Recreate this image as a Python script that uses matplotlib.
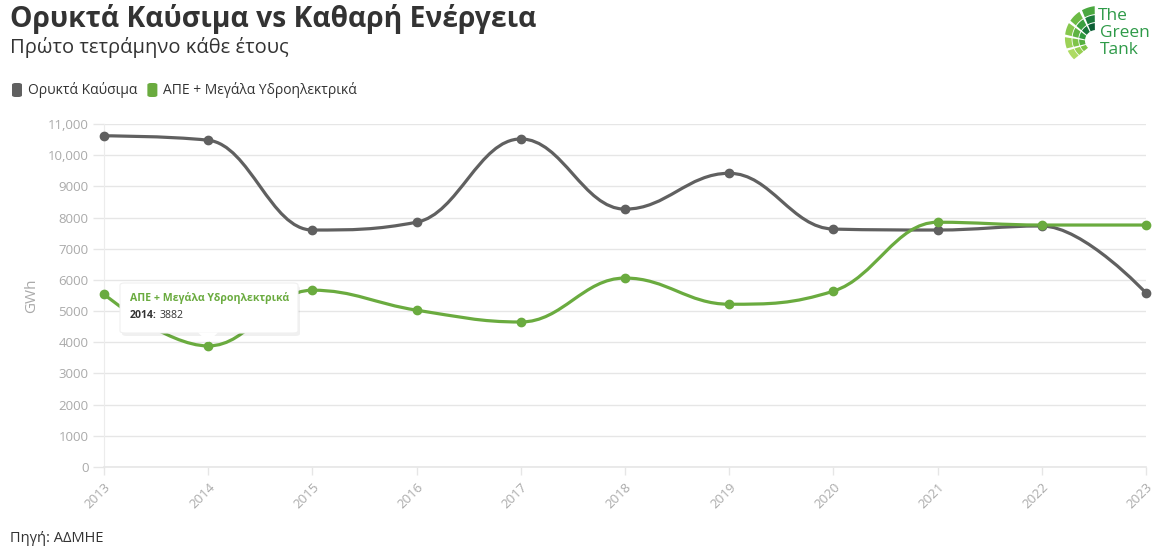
import numpy as np
import matplotlib
matplotlib.use("Agg")
import matplotlib.pyplot as plt
from matplotlib.path import Path
from matplotlib.patches import PathPatch, FancyBboxPatch, Polygon
from matplotlib.ticker import FixedLocator, FuncFormatter

plt.rcParams['font.family'] = ['Open Sans', 'Noto Sans', 'DejaVu Sans']

# --- δεδομένα ---
years = [2013, 2014, 2015, 2016, 2017, 2018, 2019, 2020, 2021, 2022, 2023]
fossil = [10620, 10480, 7600, 7850, 10520, 8270, 9420, 7630, 7600, 7730, 5580]
clean = [5540, 3882, 5670, 5030, 4650, 6060, 5220, 5640, 7850, 7760, 7760]
series_names = ['Ορυκτά Καύσιμα', 'ΑΠΕ + Μεγάλα Υδροηλεκτρικά']
y_ticks = [0, 1000, 2000, 3000, 4000, 5000, 6000, 7000, 8000, 9000, 10000, 11000]

GRAY = '#606060'
GREEN = '#6aab3f'


def spline_path(xs, ys):
    """Καμπύλη τύπου Highcharts spline (κυβικές Bezier)"""
    sm, den = 1.5, 2.5
    n = len(xs)
    left = [None] * n
    right = [None] * n
    for i in range(1, n - 1):
        px, py = xs[i], ys[i]
        lx, ly = xs[i - 1], ys[i - 1]
        nx, ny = xs[i + 1], ys[i + 1]
        lcx = (sm * px + lx) / den
        lcy = (sm * py + ly) / den
        rcx = (sm * px + nx) / den
        rcy = (sm * py + ny) / den
        if rcx != lcx:
            corr = ((rcy - lcy) * (rcx - px)) / (rcx - lcx) + py - rcy
            lcy += corr
            rcy += corr
        if lcy > ly and lcy > py:
            lcy = max(ly, py); rcy = 2 * py - lcy
        elif lcy < ly and lcy < py:
            lcy = min(ly, py); rcy = 2 * py - lcy
        if rcy > ny and rcy > py:
            rcy = max(ny, py); lcy = 2 * py - rcy
        elif rcy < ny and rcy < py:
            rcy = min(ny, py); lcy = 2 * py - rcy
        left[i] = (lcx, lcy)
        right[i] = (rcx, rcy)
    verts = [(xs[0], ys[0])]
    codes = [Path.MOVETO]
    for i in range(1, n):
        c1 = right[i - 1] if right[i - 1] else (xs[i - 1], ys[i - 1])
        c2 = left[i] if left[i] else (xs[i], ys[i])
        verts += [c1, c2, (xs[i], ys[i])]
        codes += [Path.CURVE4] * 3
    return Path(verts, codes)


fig = plt.figure(figsize=(11.72, 5.52), dpi=100)
ax = fig.add_axes([104 / 1172, 1 - 467 / 552, (1146 - 104) / 1172, (467 - 124) / 552])

for vals, col in [(fossil, GRAY), (clean, GREEN)]:
    ax.add_patch(PathPatch(spline_path(years, vals), fill=False, edgecolor=col,
                           lw=2.3, zorder=3, capstyle='round', clip_on=False))
    ax.plot(years, vals, 'o', color=col, ms=6, zorder=4, clip_on=False)

ax.set_xlim(2013, 2023)
ax.set_ylim(0, 11000)
ax.yaxis.set_major_locator(FixedLocator(y_ticks))
ax.yaxis.set_major_formatter(FuncFormatter(lambda v, p: f'{int(v):,}' if v >= 10000 else f'{int(v)}'))
ax.set_xticks(years)
ax.set_xticklabels([str(y) for y in years], rotation=45, ha='right', rotation_mode='anchor')
ax.grid(axis='y', color='#e6e6e6', lw=1)
ax.set_axisbelow(True)
for s in ['top', 'right']:
    ax.spines[s].set_visible(False)
ax.spines['left'].set_color('#ececec')
ax.spines['bottom'].set_color('#e6e6e6')
ax.spines['bottom'].set_linewidth(1.2)
ax.tick_params(axis='y', colors='#aaaaaa', labelsize=9.5, length=8, width=1, color='#e6e6e6', pad=3)
ax.tick_params(axis='x', colors='#aaaaaa', labelsize=9.5, length=6, width=1, color='#e6e6e6', pad=4)
ax.set_ylabel('GWh', color='#aaaaaa', fontsize=11, labelpad=6)

# tooltip
tip_x, tip_y = 2014, 3882
box = FancyBboxPatch((120 / 1172, 1 - 333 / 552), 178 / 1172, 50 / 552,
                     boxstyle='round,pad=0,rounding_size=0.004', transform=fig.transFigure,
                     facecolor='white', edgecolor='#f0f0f0', lw=0.8, zorder=10)
shadow = FancyBboxPatch((122 / 1172, 1 - 336 / 552), 178 / 1172, 50 / 552,
                        boxstyle='round,pad=0,rounding_size=0.004', transform=fig.transFigure,
                        facecolor='#000000', alpha=0.06, edgecolor='none', zorder=9)
fig.patches.extend([shadow, box])
fig.patches.append(Polygon([(198 / 1172, 1 - 332.5 / 552), (218 / 1172, 1 - 332.5 / 552),
                            (208 / 1172, 1 - 342 / 552)], closed=True, transform=fig.transFigure,
                           facecolor='white', edgecolor='none', zorder=11))
fig.text(130 / 1172, 1 - 298 / 552, series_names[1], color=GREEN, fontsize=7.6,
         fontweight='bold', va='center', zorder=12)
fig.text(130 / 1172, 1 - 316 / 552, f'{tip_x}:', color='#333333', fontsize=7.6,
         fontweight='bold', va='center', zorder=12)
fig.text(160 / 1172, 1 - 316 / 552, f'{tip_y}', color='#333333', fontsize=7.6, va='center', zorder=12)

# τίτλοι
fig.text(10 / 1172, 1 - 19 / 552, 'Ορυκτά Καύσιμα vs Καθαρή Ενέργεια', fontsize=20.3,
         fontweight='bold', color='#333333', va='center')
fig.text(10 / 1172, 1 - 48 / 552, 'Πρώτο τετράμηνο κάθε έτους', fontsize=14.5,
         color='#333333', va='center')

# υπόμνημα
lx = 12
for name, col in zip(series_names, [GRAY, GREEN]):
    fig.patches.append(FancyBboxPatch((lx / 1172, 1 - 97 / 552), 10 / 1172, 14 / 552,
                                      boxstyle='round,pad=0,rounding_size=0.003',
                                      transform=fig.transFigure, facecolor=col, edgecolor='none'))
    t = fig.text((lx + 16) / 1172, 1 - 90 / 552, name, fontsize=10, color='#333333', va='center')
    fig.canvas.draw()
    bb = t.get_window_extent()
    lx = bb.x1 + 10

fig.text(10 / 1172, 1 - 538 / 552, 'Πηγή: ΑΔΜΗΕ', fontsize=10.5, color='#333333', va='center')

# λογότυπο
lax = fig.add_axes([1060 / 1172, 1 - 64 / 552, 110 / 1172, 62 / 552])
lax.set_xlim(0, 110)
lax.set_ylim(62, 0)
lax.axis('off')
cx, cy = 35, 40
ring_cols = [['#0b5e34', '#17773a', '#2f9a3e', '#55b03f', '#7cc545'],
             ['#1a7a3a', '#3a9f3f', '#5fb443', '#7fc449', '#98d052'],
             ['#4aa83f', '#6cbb45', '#86c74d', '#9dd258', '#aedb63']]
a_start, a_end = 88, 222
for r_i, (r0, r1) in enumerate([(12, 19), (20, 27), (28, 36)]):
    angs = np.linspace(a_start, a_end, 6)
    for k in range(5):
        th = np.radians(np.linspace(angs[k] + 2.5, angs[k + 1] - 2.5, 8))
        sc = 1 - 0.25 * (np.degrees(th) - a_start) / (a_end - a_start)
        pts = [(cx + r1 * s * np.cos(t), cy - r1 * s * np.sin(t)) for t, s in zip(th, sc)]
        pts += [(cx + r0 * s * np.cos(t), cy - r0 * s * np.sin(t)) for t, s in zip(th[::-1], sc[::-1])]
        lax.add_patch(Polygon(pts, closed=True, facecolor=ring_cols[r_i][k], edgecolor='none'))
lax.text(38, 14, 'The', fontsize=12.5, color='#2e9a48', va='center')
lax.text(40, 31, 'Green', fontsize=12.5, color='#2e9a48', va='center')
lax.text(40, 48, 'Tank', fontsize=12.5, color='#2e9a48', va='center')

fig.savefig('out.png', dpi=100)
